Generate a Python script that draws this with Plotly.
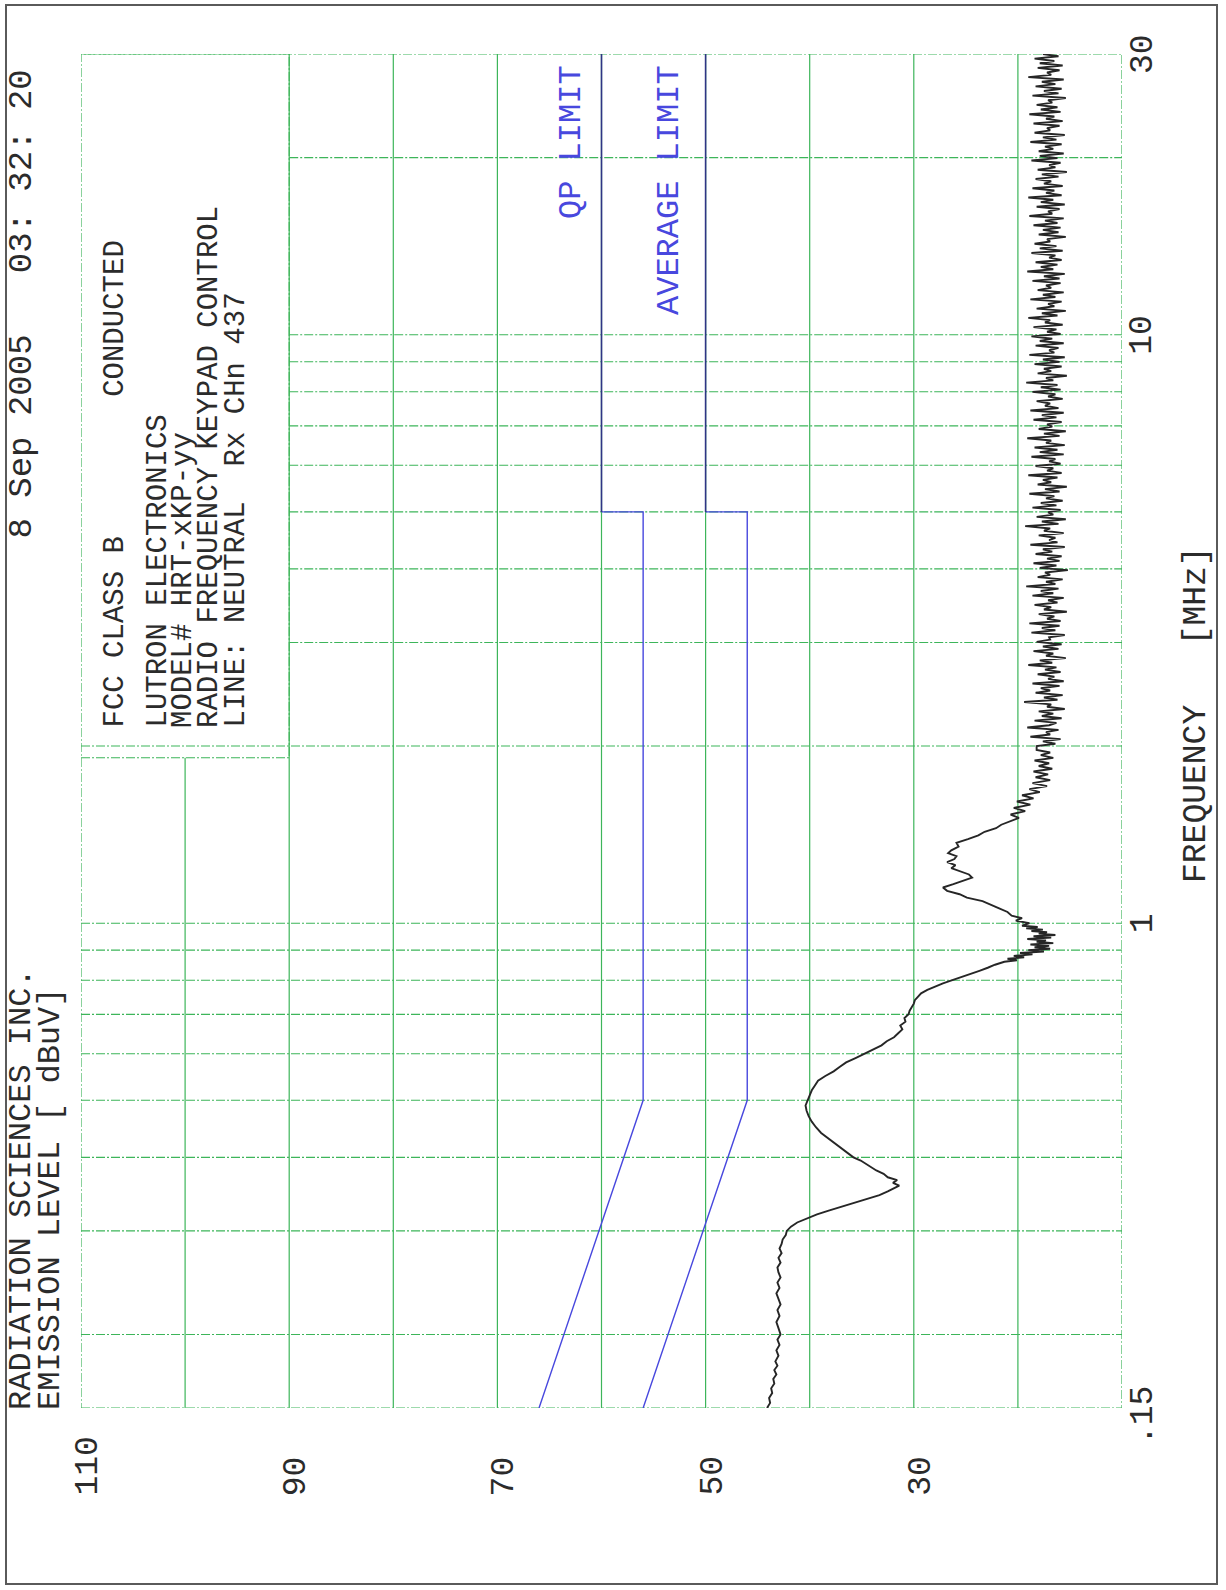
import numpy as np
import plotly.graph_objects as go

# ---------------------------------------------------------------------------
# Conducted emission scan, neutral line, 150 kHz - 30 MHz (FCC class B)
# ---------------------------------------------------------------------------

# Low band part of the scan (frequency in MHz, level in dBuV)
LOW_FREQ_MHZ = [
    0.150, 0.153, 0.156, 0.159, 0.162, 0.165, 0.168, 0.171, 0.174, 0.177,
    0.180, 0.184, 0.188, 0.192, 0.196, 0.200, 0.205, 0.210, 0.215, 0.220,
    0.225, 0.230, 0.235, 0.240, 0.245, 0.250, 0.255, 0.260, 0.265, 0.270,
    0.275, 0.280, 0.285, 0.290, 0.295, 0.300, 0.305, 0.310, 0.315, 0.320,
    0.325, 0.330, 0.335, 0.340, 0.345, 0.350, 0.355, 0.358, 0.362, 0.366,
    0.370, 0.375, 0.380, 0.385, 0.390, 0.395, 0.400, 0.410, 0.420, 0.430,
    0.440, 0.450, 0.460, 0.470, 0.480, 0.490, 0.500, 0.510, 0.520, 0.530,
    0.540, 0.550, 0.560, 0.570, 0.580, 0.590, 0.600, 0.610, 0.620, 0.630,
    0.640, 0.650, 0.660, 0.670, 0.680, 0.690, 0.700, 0.710, 0.720, 0.730,
    0.740, 0.750, 0.760, 0.770, 0.780, 0.790, 0.800, 0.810, 0.820, 0.830,
    0.840, 0.850, 0.860, 0.865, 0.870, 0.875, 0.880, 0.885, 0.890, 0.895,
    0.900, 0.905, 0.910, 0.915, 0.920, 0.925, 0.930, 0.935, 0.940, 0.945,
    0.950, 0.955, 0.960, 0.965, 0.970, 0.975, 0.980, 0.985, 0.990, 1.000,
    1.010, 1.020, 1.030, 1.045, 1.060, 1.075, 1.090, 1.105, 1.120, 1.135,
    1.150, 1.165, 1.180, 1.195, 1.210, 1.225, 1.240, 1.255, 1.270, 1.285,
    1.300, 1.315, 1.330, 1.350, 1.370, 1.390, 1.410, 1.430, 1.450, 1.470,
    1.490, 1.510, 1.530, 1.550, 1.570, 1.590, 1.610, 1.630, 1.650, 1.670,
    1.690, 1.710, 1.730, 1.750, 1.770, 1.790, 1.810, 1.830, 1.850, 1.870,
    1.890, 1.910, 1.930, 1.950, 1.970,
]
LOW_LEVEL_DBUV = [
    44.1, 43.8, 43.9, 43.6, 43.7, 43.4, 43.5, 43.2, 43.4, 43.1,
    43.3, 43.0, 43.2, 42.9, 43.1, 42.8, 43.0, 43.2, 42.9, 43.1,
    42.8, 43.0, 43.2, 42.9, 43.1, 42.8, 43.0, 43.1, 42.8, 43.0,
    42.7, 42.9, 42.7, 42.6, 42.3, 42.2, 41.8, 41.2, 40.3, 39.3,
    38.1, 36.9, 35.6, 34.4, 33.3, 32.5, 31.8, 31.4, 32.0, 31.6,
    32.5, 32.9, 33.6, 34.1, 34.7, 35.1, 35.8, 36.6, 37.4, 38.2,
    38.9, 39.4, 39.8, 40.1, 40.3, 40.4, 40.2, 40.0, 39.8, 39.5,
    39.2, 38.5, 37.7, 37.1, 36.5, 35.6, 34.8, 33.9, 33.1, 32.6,
    31.9, 31.5, 31.1, 31.3, 30.8, 30.9, 30.5, 30.4, 30.2, 30.0,
    29.9, 29.6, 29.3, 28.7, 28.0, 27.2, 26.3, 25.4, 24.4, 23.7,
    22.9, 22.2, 21.3, 20.1, 21.0, 19.4, 20.4, 18.6, 19.8, 17.5,
    19.0, 16.9, 18.4, 17.0, 18.8, 16.6, 18.2, 17.3, 19.1, 16.8,
    18.5, 16.4, 18.0, 17.2, 18.7, 17.6, 19.2, 18.1, 19.6, 18.9,
    20.2, 19.6, 20.6, 21.0, 21.8, 22.6, 23.4, 24.9, 25.6, 26.8,
    27.2, 26.2, 25.3, 24.4, 24.7, 25.6, 26.4, 26.0, 26.8, 26.1,
    25.9, 26.7, 26.4, 25.7, 25.9, 24.8, 23.8, 23.2, 22.1, 21.6,
    20.8, 19.9, 20.7, 19.3, 20.4, 18.8, 20.1, 18.5, 19.6, 17.9,
    18.9, 17.2, 18.6, 16.9, 18.3, 17.1, 18.5, 16.7, 18.0, 17.0,
    18.4, 16.6, 17.8, 16.9, 18.2,
]

# High band part: log sweep 2 - 30 MHz, one level per sweep step (dBuV)
HF_START_MHZ = 2.0
HF_STOP_MHZ = 30.0
HF_LEVEL_DBUV = [
    18.2, 16.4, 17.6, 15.9, 18.8, 16.9, 17.3, 16.1, 19.1, 17.0, 16.3, 18.4, 15.8, 17.7, 16.6,
    18.0, 15.5, 17.2, 16.8, 19.4, 16.2, 17.5, 15.7, 18.3, 16.9, 17.8, 16.0, 18.6, 15.6, 17.1,
    16.5, 18.1, 15.9, 17.4, 16.3, 19.0, 16.7, 17.9, 15.4, 17.3, 16.6, 18.5, 16.1, 17.6, 15.8,
    18.2, 16.9, 17.0, 15.5, 18.7, 16.4, 17.7, 16.0, 18.9, 15.9, 17.2, 16.5, 18.0, 15.3, 17.5,
    16.8, 18.4, 16.2, 17.1, 15.6, 18.6, 16.6, 17.8, 16.1, 19.2, 16.4, 17.3, 15.7, 18.1, 16.9,
    17.4, 15.2, 17.9, 16.3, 18.5, 16.0, 17.2, 15.8, 18.3, 16.7, 17.6, 15.5, 18.8, 16.2, 17.0,
    16.4, 18.0, 15.6, 17.5, 16.9, 19.3, 16.1, 17.7, 15.4, 18.2, 16.6, 17.1, 15.9, 18.6, 16.3,
    17.8, 15.7, 17.3, 16.5, 18.9, 16.0, 17.4, 15.3, 18.1, 16.8, 17.6, 16.2, 19.0, 15.8, 17.2,
    16.6, 18.3, 15.9, 17.0, 16.4, 18.7, 15.6, 17.9, 16.2, 18.4, 15.5, 17.3, 16.8, 19.1, 16.0,
    17.5, 15.4, 18.0, 16.7, 17.2, 15.8, 18.5, 16.3, 17.7, 15.6, 18.8, 16.1, 17.4, 16.9, 18.2,
    15.7, 17.1, 16.4, 18.6, 15.9, 17.8, 16.2, 19.2, 16.6, 17.3, 15.3, 18.1, 16.8, 17.5, 15.8,
    18.4, 16.0, 17.6, 15.5, 18.9, 16.5, 17.0, 16.1, 18.3, 15.6, 17.9, 16.7, 18.7, 15.9, 17.2,
    16.3, 18.5, 15.7, 17.4, 16.9, 19.0, 16.2, 17.7, 15.4, 18.2, 16.5, 17.1, 15.8, 18.8, 16.4,
    17.6, 15.6, 18.1, 16.8, 17.3, 15.9, 18.6, 16.0, 17.5, 15.5, 19.1, 16.6, 17.8, 16.2, 18.3,
    15.8, 17.0, 16.4, 18.7, 15.7, 17.9, 16.3, 18.4, 16.9, 17.2, 15.4, 18.0, 16.1, 17.6, 15.9,
    18.5, 16.2, 17.4, 15.6, 18.9, 16.7, 17.1, 16.0, 18.2, 15.5, 17.8, 16.6, 19.0, 15.8, 17.3,
    16.5, 18.6, 15.7, 17.5, 16.8, 18.3, 16.1, 17.7, 15.3, 18.1, 16.4, 17.0, 15.9, 18.7, 16.2,
    17.9, 15.6, 18.0, 16.6, 17.4, 15.8, 18.8, 16.3, 17.6, 15.5, 18.4, 16.9, 17.2, 16.0, 18.5,
    15.7, 17.3, 16.5, 18.9, 15.9, 17.8, 16.2, 18.2, 16.7, 17.1, 15.4, 18.6, 16.1, 17.5, 15.8,
    18.3, 16.4, 17.7, 15.6, 19.0, 16.8, 17.2, 16.0, 18.1, 15.7, 17.9, 16.5, 18.4, 16.1, 17.6,
]

# FCC Part 15 class B conducted limits
QP_FREQ_MHZ = [0.15, 0.5, 5.0, 5.0, 30.0]
QP_LEVEL_DBUV = [66.0, 56.0, 56.0, 60.0, 60.0]
AVG_FREQ_MHZ = [0.15, 0.5, 5.0, 5.0, 30.0]
AVG_LEVEL_DBUV = [56.0, 46.0, 46.0, 50.0, 50.0]

# Axes and grid
LEVEL_RANGE = [110, 10]
FREQ_RANGE = [0.15, 30]
LEVEL_TICKS = [110, 90, 70, 50, 30]
FREQ_TICKS = [0.15, 1, 10, 30]
FREQ_TICK_TEXT = [".15", "1", "10", "30"]
GRID_LEVELS = [100, 90, 80, 70, 60, 50, 40, 30, 20]
GRID_FREQS = [0.2, 0.3, 0.4, 0.5, 0.6, 0.7, 0.8, 0.9, 1,
              2, 3, 4, 5, 6, 7, 8, 9, 10, 20]
BOX_LEVELS = [110, 90]
BOX_FREQS = [1.91, 30]

NBSP = "\u00a0"
HEADER = "8 Sep 2005" + NBSP * 3 + "03: 32: 20"
COMPANY = "RADIATION SCIENCES INC."
LEVEL_TITLE = "EMISSION LEVEL [ dBuV]"
FREQ_TITLE = "FREQUENCY" + NBSP * 3 + "[MHz]"
INFO_LINES = [
    "FCC CLASS B" + NBSP * 8 + "CONDUCTED",
    "LUTRON ELECTRONICS",
    "MODEL# HRT-xKP-yy",
    "RADIO FREQUENCY KEYPAD CONTROL",
    "LINE: NEUTRAL" + NBSP * 2 + "Rx CHn 437",
]

# ---------------------------------------------------------------------------
W, H = 1226, 1590
PL, PT, PW, PH = 81, 54, 1041, 1354   # plot area in pixels

def px_x(px):
    return (px - PL) / PW

def px_y(py):
    return (PT + PH - py) / PH

FONT = "Liberation Mono, DejaVu Sans Mono, monospace"
INK = "#2b2b2b"
GREEN = "#3db55a"
BLUE = "#4848de"
NAVY = "#2f3585"

hf_freq = np.geomspace(HF_START_MHZ, HF_STOP_MHZ, len(HF_LEVEL_DBUV))
emi_freq = list(LOW_FREQ_MHZ) + list(hf_freq)
emi_level = list(LOW_LEVEL_DBUV) + list(HF_LEVEL_DBUV)

fig = go.Figure()

# vertical grid lines (constant level)
gx, gy = [], []
for lv in GRID_LEVELS:
    top = BOX_FREQS[0] if lv > BOX_LEVELS[1] else FREQ_RANGE[1]
    gx += [lv, lv, None]
    gy += [FREQ_RANGE[0], top, None]
fig.add_trace(go.Scatter(x=gx, y=gy, mode="lines", hoverinfo="skip",
                         line=dict(color=GREEN, width=1.2)))

# horizontal grid lines (constant frequency)
hx, hy = [], []
for f in GRID_FREQS:
    start = BOX_LEVELS[1] if f > BOX_FREQS[0] and f > 2 else LEVEL_RANGE[0]
    hx += [start, LEVEL_RANGE[1], None]
    hy += [f, f, None]
fig.add_trace(go.Scatter(x=hx, y=hy, mode="lines", hoverinfo="skip",
                         line=dict(color=GREEN, width=1.1,
                                   dash="9px,2px,2px,2px")))

# header box and plot frame
fig.add_trace(go.Scatter(
    x=[BOX_LEVELS[0], BOX_LEVELS[1], BOX_LEVELS[1], BOX_LEVELS[0]],
    y=[BOX_FREQS[0], BOX_FREQS[0], BOX_FREQS[1], BOX_FREQS[1]],
    mode="lines", hoverinfo="skip",
    line=dict(color=GREEN, width=1.1, dash="9px,2px,2px,2px")))
fig.add_trace(go.Scatter(
    x=[LEVEL_RANGE[0], LEVEL_RANGE[1], LEVEL_RANGE[1], LEVEL_RANGE[0], LEVEL_RANGE[0]],
    y=[FREQ_RANGE[0], FREQ_RANGE[0], FREQ_RANGE[1], FREQ_RANGE[1], FREQ_RANGE[0]],
    mode="lines", hoverinfo="skip",
    line=dict(color=GREEN, width=1.2, dash="9px,2px,2px,2px")))

# limit lines: sloped / low part in blue, upper band segment in navy
for fr, lv in ((QP_FREQ_MHZ, QP_LEVEL_DBUV), (AVG_FREQ_MHZ, AVG_LEVEL_DBUV)):
    fig.add_trace(go.Scatter(x=lv[:4], y=fr[:4], mode="lines", hoverinfo="skip",
                             line=dict(color=BLUE, width=1.4)))
    fig.add_trace(go.Scatter(x=lv[3:], y=fr[3:], mode="lines", hoverinfo="skip",
                             line=dict(color=NAVY, width=1.6)))

# measured emission
fig.add_trace(go.Scatter(x=emi_level, y=emi_freq, mode="lines", hoverinfo="skip",
                         line=dict(color="#262626", width=1.9)))

ann = []

def rot_text(text, x, y, xanchor="center", yanchor="bottom", color=INK,
             xref="paper", yref="paper", xshift=0, yshift=0, size=33):
    ann.append(dict(text=text, x=x, y=y, xref=xref, yref=yref,
                    xanchor=xanchor, yanchor=yanchor, textangle=-90,
                    showarrow=False, xshift=xshift, yshift=yshift,
                    font=dict(family=FONT, size=size, color=color)))

# page titles
rot_text(COMPANY, px_x(21), px_y(1412), size=32)
rot_text(LEVEL_TITLE, px_x(50), px_y(1412), size=32)
rot_text(HEADER, px_x(22), px_y(68), yanchor="top", size=34)

# information block
for text, xc in zip(INFO_LINES, [115, 158, 184, 210, 236]):
    rot_text(text, px_x(xc), px_y(730), size=29)

# limit names
rot_text("QP LIMIT", px_x(571), px_y(63), yanchor="top", color=BLUE, size=32)
rot_text("AVERAGE LIMIT", px_x(669), px_y(63), yanchor="top", color=BLUE, size=32)

# level ticks below the plot
for lv in LEVEL_TICKS:
    rot_text(str(lv), lv, px_y(1498), xref="x", xshift=7)

# frequency ticks right of the plot
for f, t, dy in zip(FREQ_TICKS, FREQ_TICK_TEXT, [-8, 0, 0, 0]):
    rot_text(t, px_x(1143), np.log10(f), yref="y", yanchor="middle", yshift=dy)

rot_text(FREQ_TITLE, px_x(1197), px_y(715), yanchor="middle")

fig.update_layout(
    width=W, height=H,
    margin=dict(l=PL, r=W - PL - PW, t=PT, b=H - PT - PH, pad=0),
    paper_bgcolor="white", plot_bgcolor="white",
    showlegend=False,
    annotations=ann,
    shapes=[dict(type="rect", xref="paper", yref="paper",
                 x0=px_x(6), x1=px_x(1217), y0=px_y(1584), y1=px_y(5),
                 line=dict(color="#5a5a5a", width=2))],
    xaxis=dict(range=LEVEL_RANGE, showgrid=False, zeroline=False,
               showticklabels=False, ticks="", showline=False, automargin=False),
    yaxis=dict(type="log", range=[np.log10(FREQ_RANGE[0]), np.log10(FREQ_RANGE[1])],
               showgrid=False, zeroline=False, showticklabels=False, ticks="",
               showline=False, automargin=False),
)

fig.write_html("out.html", config={"displayModeBar": False})
